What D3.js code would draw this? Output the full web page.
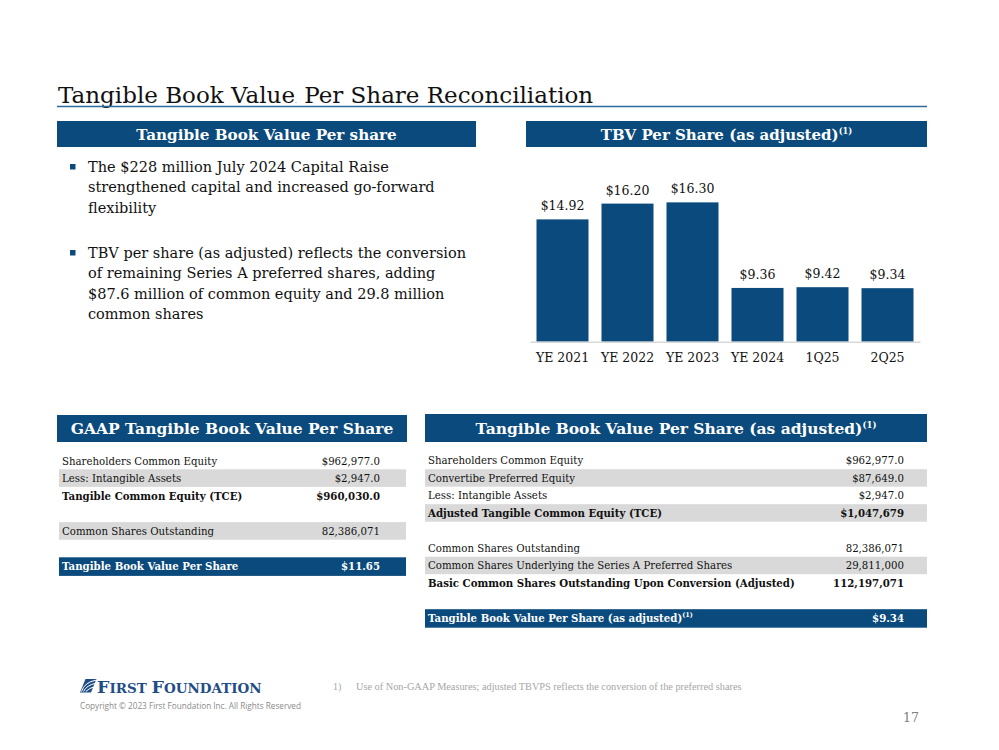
<!DOCTYPE html>
<html><head><meta charset="utf-8">
<script src="https://cdn.jsdelivr.net/npm/d3@7"></script>
<style>
html,body{margin:0;padding:0;background:#fff;}
svg{display:block;}
</style></head>
<body>
<svg id="c" width="999" height="750"></svg>
<script>
// ---------- DATA ----------
const categories = ["YE 2021","YE 2022","YE 2023","YE 2024","1Q25","2Q25"];
const tbvValues  = [14.92, 16.20, 16.30, 9.36, 9.42, 9.34];
const tbvLabels  = ["$14.92","$16.20","$16.30","$9.36","$9.42","$9.34"];

const bullets = [
  ["The $228 million July 2024 Capital Raise","strengthened capital and increased go-forward","flexibility"],
  ["TBV per share (as adjusted) reflects the conversion","of remaining Series A preferred shares, adding","$87.6 million of common equity and 29.8 million","common shares"]
];

const gaapLabels = ["Shareholders Common Equity","Less: Intangible Assets","Tangible Common Equity (TCE)","","Common Shares Outstanding","","Tangible Book Value Per Share"];
const gaapValues = ["$962,977.0","$2,947.0","$960,030.0","","82,386,071","","$11.65"];

const adjLabels = ["Shareholders Common Equity","Convertibe Preferred Equity","Less: Intangible Assets","Adjusted Tangible Common Equity (TCE)","","Common Shares Outstanding","Common Shares Underlying the Series A Preferred Shares","Basic Common Shares Outstanding Upon Conversion (Adjusted)","","Tangible Book Value Per Share (as adjusted)"];
const adjValues = ["$962,977.0","$87,649.0","$2,947.0","$1,047,679","","82,386,071","29,811,000","112,197,071","","$9.34"];

// ---------- STYLE ----------
const BLUE = "#0B4A7C";
const GRAY = "#D9D9D9";
const SERIF = "'DejaVu Serif', Georgia, serif";
const svg = d3.select("#c");

// Title
const title = svg.append("text").attr("x",58).attr("y",103)
  .attr("font-family",SERIF).attr("font-size",23).attr("fill","#111");
title.append("tspan").text("Tangible Book Value");
title.append("tspan").attr("font-size",6).text(".");
title.append("tspan").text(" Per Share Reconciliation");
svg.append("line").attr("x1",57).attr("x2",927).attr("y1",106.5).attr("y2",106.5)
  .attr("stroke","#2F6A9C").attr("stroke-width",1.3);

// Header bars
function header(x,w,y,h,txt,size,sup){
  svg.append("rect").attr("x",x).attr("y",y).attr("width",w).attr("height",h).attr("fill",BLUE);
  const t = svg.append("text").attr("x",x+w/2).attr("y",y+h/2+5.5).attr("text-anchor","middle")
    .attr("font-family",SERIF).attr("font-weight","bold").attr("font-size",size).attr("fill","#fff");
  t.append("tspan").text(txt);
  if(sup) t.append("tspan").attr("font-size",size*0.55).attr("dy",-6).text("(1)");
}
header(57,419,121,26,"Tangible Book Value Per share",15.2,false);
header(526,401,121,26,"TBV Per Share (as adjusted)",15,true);
header(57,350,415,27,"GAAP Tangible Book Value Per Share",15.5,false);
header(425,502,414,28,"Tangible Book Value Per Share (as adjusted)",15.5,true);

// Bullets
const bulletStarts = [172, 258];
bullets.forEach((lines,i)=>{
  svg.append("rect").attr("x",70).attr("y",bulletStarts[i]-8).attr("width",5.5).attr("height",5.5).attr("fill",BLUE);
  const t = svg.append("text").attr("font-family",SERIF).attr("font-size",14.5).attr("fill","#111");
  lines.forEach((ln,j)=>{
    t.append("tspan").attr("x",88).attr("y",bulletStarts[i]+j*20.3).text(ln);
  });
});

// Bar chart
const x = d3.scaleBand().domain(categories).range([530,920]).paddingInner(0.2).paddingOuter(0.1);
const y = d3.scaleLinear().domain([5,17]).range([341.7, 341.7-12*12.33]);
const g = svg.append("g");
g.selectAll("rect.bar").data(tbvValues).join("rect").attr("class","bar")
  .attr("x",(d,i)=>x(categories[i])).attr("width",x.bandwidth())
  .attr("y",d=>y(d)).attr("height",d=>y(5)-y(d)).attr("fill",BLUE);
g.selectAll("text.val").data(tbvValues).join("text").attr("class","val")
  .attr("x",(d,i)=>x(categories[i])+x.bandwidth()/2).attr("y",d=>y(d)-9)
  .attr("text-anchor","middle").attr("font-family",SERIF).attr("font-size",12.5).attr("fill","#111")
  .text((d,i)=>tbvLabels[i]);
const xAxis = g.append("g").attr("transform","translate(0,341.7)")
  .call(d3.axisBottom(x).tickSize(0).tickPadding(11));
xAxis.select(".domain").attr("stroke","#D9D9D9").attr("stroke-width",1.5);
xAxis.selectAll("text").attr("font-family",SERIF).attr("font-size",12.5).attr("fill","#111");

// Tables
function table(x0,x1,valX,top,rowH,labels,values,grayRows,boldRows,totalRow,supTotal){
  labels.forEach((lab,i)=>{
    const ry = top + i*rowH;
    if(i===totalRow){
      svg.append("rect").attr("x",x0).attr("y",ry).attr("width",x1-x0).attr("height",rowH+1).attr("fill",BLUE);
    } else if(grayRows.includes(i)){
      svg.append("rect").attr("x",x0).attr("y",ry).attr("width",x1-x0).attr("height",rowH).attr("fill",GRAY);
    }
    if(!lab) return;
    const bold = boldRows.includes(i) || i===totalRow;
    const col = i===totalRow ? "#fff" : "#111";
    const t = svg.append("text").attr("x",x0+3).attr("y",ry+rowH/2+4)
      .attr("font-family",SERIF).attr("font-size",10.2).attr("fill",col)
      .attr("font-weight",bold?"bold":"normal");
    t.append("tspan").text(lab);
    if(i===totalRow && supTotal) t.append("tspan").attr("font-size",6.5).attr("dy",-5).text("(1)");
    svg.append("text").attr("x",valX).attr("y",ry+rowH/2+4).attr("text-anchor","end")
      .attr("font-family",SERIF).attr("font-size",10.2).attr("fill",col)
      .attr("font-weight",bold?"bold":"normal").text(values[i]);
  });
}
table(59,406,380,451.7,17.6,gaapLabels,gaapValues,[1,4],[2],6,false);
table(425,927,904,451.7,17.5,adjLabels,adjValues,[1,3,6],[3,7],9,true);

// Footer: logo
const LOGO = "#1F4E86";
const logo = svg.append("g").attr("transform","translate(80,679)");
logo.append("path").attr("d","M5.5,0 L16.5,0 L11,13.5 L0,13.5 Z").attr("fill",LOGO);
[[1.5,12.5,16,1.2],[3.5,12.5,16,4.2],[5.8,12.5,16,7.2]].forEach(([sx,sy,ex,ey])=>{
  logo.append("path").attr("d",`M${sx},${sy} Q${sx+3},${ey+2} ${ex},${ey}`)
    .attr("fill","none").attr("stroke","#fff").attr("stroke-width",1);
});
const lt = logo.append("text").attr("x",17).attr("y",13.5).attr("font-family",SERIF)
  .attr("font-weight","bold").attr("fill",LOGO).attr("font-size",17.5);
lt.append("tspan").text("F");
lt.append("tspan").attr("font-size",13.5).text("IRST ");
lt.append("tspan").text("F");
lt.append("tspan").attr("font-size",13.5).text("OUNDATION");
svg.append("text").attr("x",80).attr("y",709).attr("font-family","'Open Sans', sans-serif")
  .attr("font-size",8.2).attr("fill","#8a8a8a").text("Copyright © 2023 First Foundation Inc. All Rights Reserved");
svg.append("text").attr("x",333).attr("y",690).attr("font-family","'Liberation Serif', serif")
  .attr("font-size",10).attr("fill","#a6a6a6").text("1)");
svg.append("text").attr("x",356).attr("y",690).attr("font-family","'Liberation Serif', serif")
  .attr("font-size",10.3).attr("fill","#a6a6a6")
  .text("Use of Non-GAAP Measures;  adjusted TBVPS reflects the conversion of the preferred shares");
svg.append("text").attr("x",919).attr("y",722).attr("text-anchor","end").attr("font-family",SERIF)
  .attr("font-size",12.5).attr("fill","#7f7f7f").text("17");
</script>
</body></html>
